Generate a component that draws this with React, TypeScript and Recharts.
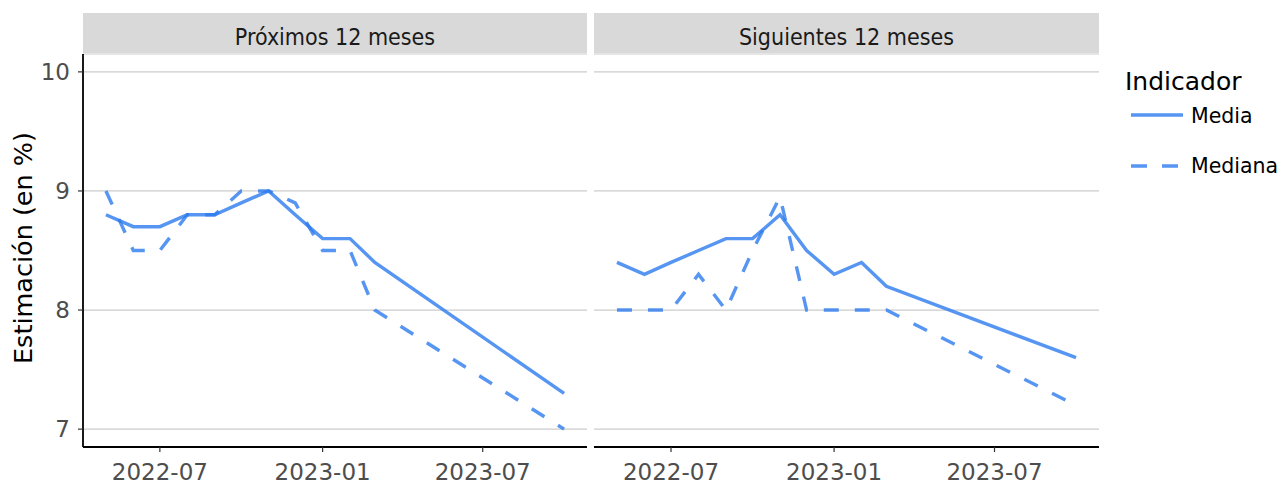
import React from 'react';
import { LineChart, Line, XAxis, YAxis, CartesianGrid } from 'recharts';

// fechas de la encuesta (primer día de cada mes)
const fechas = [
  '2022-05-01', '2022-06-01', '2022-07-01', '2022-08-01', '2022-09-01', '2022-10-01',
  '2022-11-01', '2022-12-01', '2023-01-01', '2023-02-01', '2023-03-01', '2023-10-01',
];

const proximosMedia = [8.8, 8.7, 8.7, 8.8, 8.8, 8.9, 9.0, 8.8, 8.6, 8.6, 8.4, 7.3];
const proximosMediana = [9.0, 8.5, 8.5, 8.8, 8.8, 9.0, 9.0, 8.9, 8.5, 8.5, 8.0, 7.0];
const siguientesMedia = [8.4, 8.3, 8.4, 8.5, 8.6, 8.6, 8.8, 8.5, 8.3, 8.4, 8.2, 7.6];
const siguientesMediana = [8.0, 8.0, 8.0, 8.3, 8.0, 8.5, 8.95, 8.0, 8.0, 8.0, 8.0, 7.2];

const yTicks = [7, 8, 9, 10];
const xTickFechas = ['2022-07-01', '2023-01-01', '2023-07-01'];

const toTs = (d: string) =>
  Date.UTC(Number(d.slice(0, 4)), Number(d.slice(5, 7)) - 1, Number(d.slice(8, 10)));

const tsFechas = fechas.map(toTs);
const tMin = Math.min(...tsFechas);
const tMax = Math.max(...tsFechas);
const tPad = (tMax - tMin) * 0.05;
const xDomain = [tMin - tPad, tMax + tPad];
const xTicks = xTickFechas.map(toTs);

const buildData = (media: number[], mediana: number[]) =>
  tsFechas.map((t, i) => ({ t, media: media[i], mediana: mediana[i] }));

const proximosData = buildData(proximosMedia, proximosMediana);
const siguientesData = buildData(siguientesMedia, siguientesMediana);

const BLUE = '#2C7BEE';
const LINE_W = 3.4;
const FONT = '"DejaVu Sans", Verdana, sans-serif';

const fmtMes = (ts: number) => new Date(ts).toISOString().slice(0, 7);

interface PanelProps {
  title: string;
  data: { t: number; media: number; mediana: number }[];
  left: number;
  width: number;
  showY: boolean;
}

const Panel: React.FC<PanelProps> = ({ title, data, left, width, showY }) => {
  const plotLeft = showY ? 83 : 3;
  const plotWidth = width - plotLeft - 3;
  return (
    <div style={{ position: 'absolute', left, top: 0, width, height: 486 }}>
      <div
        style={{
          position: 'absolute',
          left: plotLeft,
          top: 13,
          width: plotWidth,
          height: 40,
          background: '#d9d9d9',
          display: 'flex',
          alignItems: 'center',
          justifyContent: 'center',
          paddingTop: 7,
          boxSizing: 'border-box',
          fontFamily: '"DejaVu Sans Condensed", "DejaVu Sans", sans-serif',
          fontSize: 23,
          color: '#1a1a1a',
          whiteSpace: 'nowrap',
        }}
      >
        {title}
      </div>
      <LineChart
        width={width}
        height={486}
        data={data}
        margin={{ top: 54, right: 3, bottom: 0, left: showY ? 0 : 3 }}
      >
        <CartesianGrid vertical={false} stroke='#cccccc' strokeWidth={1.2} />
        <XAxis
          dataKey='t'
          type='number'
          domain={xDomain}
          allowDataOverflow
          ticks={xTicks}
          tickFormatter={fmtMes}
          height={39}
          tickSize={5}
          tickMargin={12}
          axisLine={{ stroke: '#000000', strokeWidth: 1.8 }}
          tickLine={{ stroke: '#333333', strokeWidth: 1.2 }}
          tick={{ fill: '#4d4d4d', fontSize: 23, fontFamily: FONT }}
        />
        <YAxis
          type='number'
          domain={[6.85, 10.15]}
          allowDataOverflow
          ticks={yTicks}
          width={showY ? 83 : 0}
          hide={!showY}
          tickSize={5}
          tickMargin={8}
          axisLine={{ stroke: '#000000', strokeWidth: 1.8 }}
          tickLine={{ stroke: '#333333', strokeWidth: 1.2 }}
          tick={{ fill: '#4d4d4d', fontSize: 23, fontFamily: FONT }}
        />
        <Line
          type='linear'
          dataKey='media'
          stroke={BLUE}
          strokeOpacity={0.8}
          strokeWidth={LINE_W}
          dot={false}
          activeDot={false}
          isAnimationActive={false}
        />
        <Line
          type='linear'
          dataKey='mediana'
          stroke={BLUE}
          strokeOpacity={0.8}
          strokeWidth={LINE_W}
          strokeDasharray='15 16'
          dot={false}
          activeDot={false}
          isAnimationActive={false}
        />
      </LineChart>
    </div>
  );
};

const App: React.FC = () => {
  return (
    <div
      style={{
        position: 'absolute',
        left: 0,
        top: 0,
        width: 1278,
        height: 486,
        background: '#ffffff',
        overflow: 'hidden',
      }}
    >
      <Panel title='Próximos 12 meses' data={proximosData} left={0} width={590} showY />
      <Panel title='Siguientes 12 meses' data={siguientesData} left={591} width={511} showY={false} />
      <svg
        width={1278}
        height={486}
        style={{ position: 'absolute', left: 0, top: 0, pointerEvents: 'none' }}
      >
        <text
          x={31.5}
          y={248}
          transform='rotate(-90, 31.5, 248)'
          textAnchor='middle'
          fontFamily={FONT}
          fontSize={25.5}
          fill='#000000'
        >
          Estimación (en %)
        </text>
        <text x={1125} y={90} fontFamily={FONT} fontSize={25} fill='#000000'>
          Indicador
        </text>
        <line x1={1131} x2={1183} y1={115} y2={115} stroke={BLUE} strokeOpacity={0.8} strokeWidth={LINE_W} />
        <text x={1191} y={123} fontFamily={FONT} fontSize={20.5} fill='#000000'>
          Media
        </text>
        <line
          x1={1131}
          x2={1183}
          y1={166}
          y2={166}
          stroke={BLUE}
          strokeOpacity={0.8}
          strokeWidth={LINE_W}
          strokeDasharray='16 15'
        />
        <text x={1191} y={173} fontFamily={FONT} fontSize={20.5} fill='#000000'>
          Mediana
        </text>
      </svg>
    </div>
  );
};

export default App;
